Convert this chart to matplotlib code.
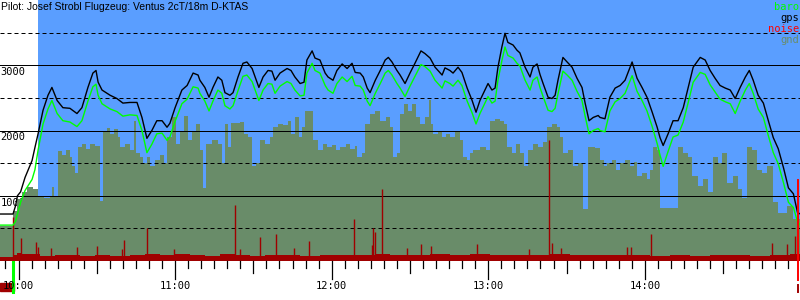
import matplotlib
matplotlib.use("Agg")
import matplotlib.pyplot as plt
import numpy as np

# minutes after 10:00, altitudes in m
flight_t = [-7.1, -2.1, -1.1, -0.4, 0.8, 2.5, 5.2, 6.3, 7.5, 9.4, 11.3, 12.8, 14.8, 17.0, 19.7,
            22.4, 24.3, 26.6, 28.5, 29.7, 30.5, 32.0, 35.1, 37.7, 40.0, 42.7, 45.4, 47.3, 49.2,
            51.1, 53.0, 55.0, 56.9, 58.0, 60.0, 62.6, 64.6, 66.9, 68.8, 69.5, 71.4, 73.0, 74.5,
            76.4, 77.9, 79.1, 81.0, 82.2, 84.1, 86.0, 87.5, 89.5, 91.4, 92.1, 93.7, 95.6, 97.1,
            98.3, 100.2, 102.9, 104.4, 105.9, 107.9, 109.4, 110.5, 112.5, 113.6, 115.5, 117.5,
            118.6, 120.5, 122.0, 124.0, 125.9, 127.8, 129.0, 130.9, 132.1, 133.6, 134.7, 136.7,
            138.6, 140.5, 141.7, 143.1, 145.0, 146.2, 148.1, 150.0, 151.9, 154.2, 155.7, 157.7,
            159.6, 162.3, 163.4, 165.3, 166.5, 168.4, 169.9, 171.9, 173.8, 175.3, 176.8, 178.7,
            179.9, 181.4, 182.6, 183.7, 185.2, 186.4, 187.5, 189.5, 191.0, 192.1, 194.1, 196.0,
            197.1, 198.7, 199.8, 201.0, 202.9, 204.4, 205.6, 206.7, 208.6, 210.2, 212.1, 214.0,
            215.9, 217.1, 218.6, 220.2, 222.1, 222.8, 224.7, 226.6, 228.6, 230.5, 232.4, 234.3,
            235.1, 237.0, 238.9, 240.8, 242.8, 244.7, 245.8, 247.0, 248.9, 250.8, 252.7, 254.7,
            256.6, 258.5, 261.2, 263.1, 265.0, 266.9, 268.8, 270.8, 272.7, 274.6, 276.5, 278.5,
            280.0, 281.5, 283.4, 285.4, 287.3, 289.2, 291.1, 293.1, 295.0, 296.9, 298.5, 299.6]
gps = [720, 720, 850, 1000, 1060, 1280, 1540, 1740, 1950, 2310, 2540, 2660, 2460, 2350, 2340,
       2260, 2350, 2660, 2880, 2920, 2740, 2620, 2540, 2490, 2420, 2430, 2430, 2200, 1880,
       2000, 2150, 2150, 2050, 2110, 2350, 2620, 2690, 2880, 2850, 2770, 2660, 2510, 2660,
       2820, 2770, 2580, 2540, 2580, 2820, 3030, 3050, 2950, 2740, 2660, 2820, 2920, 2910,
       2770, 2880, 2950, 2920, 2820, 2720, 2740, 3080, 3220, 3110, 3080, 2880,
       2820, 2770, 2920, 3020, 2950, 3030, 2890, 2880, 2820, 2650, 2580, 2770,
       2920, 3080, 3120, 3050, 2920, 2850, 2720, 2880, 3030, 3220, 3180, 3110,
       2970, 2850, 2960, 2920, 2880, 2970, 2890, 2650, 2460, 2280, 2460, 2620,
       2720, 2620, 2650, 2970, 3280, 3490, 3350, 3310, 3230, 3190, 2970, 2820,
       2970, 3020, 2860, 2720, 2510, 2490, 2540, 2770, 3120, 3050, 2970, 2800,
       2660, 2420, 2150, 2200, 2230, 2200, 2180, 2510, 2650, 2690, 2770, 2970,
       3050, 2800, 2660, 2510, 2280, 2050, 1890, 1770, 1950, 2150, 2150, 2350,
       2660, 2970, 3120, 3080, 2920, 2800, 2690, 2650, 2620, 2490, 2660, 2820,
       2920, 2770, 2540, 2420, 2150, 1890, 1720, 1430, 1120, 1030, 740, 720]
baro = [550, 550, 610, 720, 900, 1080, 1250, 1400, 1700, 2100, 2330, 2460, 2260, 2150, 2130,
        2060, 2150, 2450, 2670, 2710, 2540, 2410, 2330, 2290, 2220, 2240, 2230, 2000, 1660,
        1790, 1950, 1960, 1850, 1900, 2140, 2410, 2480, 2670, 2650, 2570, 2450, 2300, 2450,
        2620, 2570, 2380, 2330, 2380, 2610, 2830, 2850, 2750, 2540, 2460, 2620, 2720, 2710,
        2570, 2680, 2750, 2720, 2620, 2530, 2540, 2880, 3030, 2920, 2880, 2690,
        2620, 2570, 2720, 2820, 2750, 2830, 2690, 2680, 2620, 2450, 2380, 2570,
        2720, 2880, 2920, 2850, 2720, 2650, 2520, 2680, 2830, 3010, 2980, 2910,
        2770, 2650, 2760, 2720, 2680, 2770, 2690, 2450, 2270, 2100, 2260, 2420,
        2520, 2420, 2450, 2770, 3070, 3280, 3150, 3110, 3030, 2990, 2770, 2620,
        2770, 2820, 2660, 2520, 2310, 2290, 2340, 2560, 2910, 2850, 2770, 2600,
        2460, 2220, 1950, 2000, 2030, 2000, 1980, 2300, 2440, 2490, 2570, 2760,
        2840, 2600, 2460, 2300, 2060, 1800, 1620, 1450, 1680, 1900, 1930, 2130,
        2430, 2740, 2890, 2860, 2700, 2590, 2480, 2440, 2410, 2260, 2450, 2620,
        2720, 2570, 2330, 2200, 1920, 1660, 1490, 1200, 900, 820, 600, 550]

gnd_t = [-7.1, -2.1, -0.6, 1.3, 3.3, 5.6, 7.5, 9.8, 12.1, 12.8, 13.6, 15.1, 16.7, 18.2, 19.7,
         20.5, 21.6, 22.8, 24.3, 25.9, 27.4, 29.3, 31.2, 32.4, 33.9, 35.1, 36.6, 38.1, 38.9,
         40.8, 42.7, 44.3, 45.0, 46.6, 47.7, 49.2, 50.4, 52.3, 54.2, 55.7, 56.9, 58.8, 60.3,
         61.9, 63.4, 64.9, 66.5, 68.0, 69.5, 70.7, 71.8, 74.1, 76.4, 77.9, 79.1, 80.3, 81.4,
         84.9, 86.4, 87.9, 89.5, 91.0, 92.5, 94.4, 96.4, 97.5, 99.4, 101.3, 103.3, 104.4,
         105.9, 107.5, 108.6, 109.8, 112.8, 114.8, 116.7, 118.2, 120.1, 121.6, 123.2, 125.5,
         127.0, 129.0, 129.7, 131.6, 132.8, 134.7, 136.7, 138.6, 140.9, 142.4, 143.5, 145.0,
         146.2, 147.7, 149.2, 150.8, 152.3, 153.8, 155.7, 157.3, 158.0, 158.8, 160.7, 162.3,
         163.8, 165.3, 167.2, 169.2, 170.3, 171.9, 173.0, 174.1, 176.8, 179.1, 180.6, 182.6,
         184.5, 186.0, 187.2, 189.1, 190.6, 192.1, 193.7, 195.2, 197.1, 199.0, 201.0, 202.5,
         204.4, 206.3, 207.5, 208.6, 210.5, 212.5, 214.4, 216.3, 218.2, 220.9, 222.8, 224.4,
         225.5, 227.4, 229.0, 230.5, 232.4, 234.3, 235.9, 237.0, 238.9, 240.8, 242.0, 243.1,
         244.7, 245.8, 252.7, 254.7, 256.6, 258.1, 260.4, 262.3, 264.2, 266.1, 268.0, 269.6,
         271.5, 273.8, 275.7, 277.2, 279.1, 281.1, 283.0, 284.9, 286.8, 289.2, 291.1, 294.5,
         296.9, 299.6]
gnd = [540, 760, 950, 1050, 1130, 1100, 1000, 960, 1000, 1140, 980, 1680, 1620, 1700, 1600,
       1450, 1350, 1750, 1800, 1720, 1800, 1760, 920, 2000, 2040, 1950, 2030, 1900, 1750,
       1800, 1700, 2150, 1650, 1600, 1500, 1600, 1450, 1550, 1620, 1500, 1900, 2200, 1800,
       2000, 2220, 1850, 2000, 2100, 1700, 1120, 1800, 1850, 1800, 1500, 2100, 1750, 2120,
       2130, 1950, 1900, 1450, 1500, 1850, 1800, 1900, 2050, 2100, 2080, 2150, 1950,
       2200, 1900, 2050, 2300, 1850, 1700, 1800, 1750, 1780, 1700, 1750, 1800,
       1720, 1760, 1600, 1650, 2100, 2250, 2300, 2150, 2200, 2050, 1600, 1650,
       2250, 2400, 2300, 2400, 2200, 2100, 2200, 2460, 2100, 1950, 2000, 1900,
       1950, 1900, 2000, 1850, 1600, 1550, 1650, 1700, 1750, 1700, 2150, 2180,
       2150, 2100, 1750, 1650, 1800, 1650, 1450, 1700, 1800, 1750, 1820, 2050,
       2100, 2050, 1900, 1650, 1700, 1450, 1500, 800, 1750, 1730, 1550, 1450,
       1500, 1550, 1400, 1500, 1550, 1450, 1520, 1300, 1350, 1250, 1400, 1750,
       1700, 810, 1750, 1650, 1600, 1300, 1150, 1250, 1050, 1600, 1500, 1650,
       1200, 1300, 1100, 960, 1750, 1700, 1400, 1350, 1450, 900, 740, 850,
       650, 600]

noise_t = [-7.1, -2.1, -0.6, 1.3, 4.4, 8.2, 14.0, 19.7, 23.6, 29.3, 35.1, 42.7, 48.5, 54.2,
           60.0, 65.7, 71.5, 77.2, 83.0, 88.7, 94.4, 100.2, 107.9, 115.5, 123.2, 130.9, 136.7,
           142.4, 150.0, 157.7, 165.3, 173.0, 180.6, 188.3, 196.0, 203.6, 211.3, 219.0, 226.6,
           234.3, 242.0, 249.6, 257.3, 265.0, 272.7, 280.4, 288.0, 295.7, 299.6]
noise = [60, 90, 130, 110, 100, 80, 90, 95, 80, 95, 80, 90, 100, 85,
         100, 90, 80, 100, 90, 80, 85, 90, 80, 90, 85, 95, 100,
         90, 95, 110, 90, 100, 85, 95, 85, 100, 90, 85, 90,
         85, 80, 85, 80, 90, 85, 80, 90, 100, 100]
spike_t = [-2.1, 1.0, 6.7, 7.5, 12.5, 22.4, 30.1, 39.7, 40.4, 49.2, 59.6, 83.0, 84.9, 92.5,
           98.7, 105.6, 111.3, 128.6, 135.5, 135.9, 136.7, 139.3, 148.9, 154.2, 158.0, 175.7,
           195.6, 203.3, 204.4, 207.9, 233.2, 234.7, 242.4, 288.7, 294.5, 297.6]
spike = [680, 350, 290, 220, 200, 210, 230, 180, 320, 510, 190, 860, 190, 370,
         410, 200, 300, 640, 250, 510, 450, 1110, 200, 260, 230, 260,
         180, 1850, 270, 200, 220, 220, 410, 280, 260, 390]

hours = [0, 60, 120, 180, 240]
hour_labels = ["10:00", "11:00", "12:00", "13:00", "14:00"]
alt_labels = [1000, 2000, 3000]
release_t = 7.5
takeoff_t = -2.0
landing_t = 298.8

BLUE = "#5a9eff"
GND = "#698c69"
NOISE = "#a00000"
mono = "DejaVu Sans Mono"

fig = plt.figure(figsize=(8, 3), dpi=100)
ax = fig.add_axes([0, 39 / 300, 1, 261 / 300])
ax.set_xlim(-7.09, 299.43)
ax.set_ylim(0, 4000)
ax.axis("off")

ax.axvspan(release_t, 299.43, color=BLUE, lw=0, zorder=0)

for a in alt_labels:
    ax.text(-6.9, a - 30, str(a), ha="left", va="top", fontsize=7.5, family=mono, zorder=1)

ax.fill_between(gnd_t, 0, gnd, step="post", color=GND, lw=0, zorder=2)

for a in range(500, 4000, 500):
    if a % 1000 == 0:
        ax.axhline(a, color="black", lw=0.72, zorder=3)
    else:
        ax.axhline(a, color="black", lw=0.72, ls=(0, (4, 3)), zorder=3)

ax.fill_between(noise_t, 0, noise, step="post", color=NOISE, lw=0, zorder=4)
ax.vlines(spike_t, 0, spike, color=NOISE, lw=1.0, zorder=4)

ax.plot(flight_t, baro, color="#00ff00", lw=1.0, zorder=5)
ax.plot(flight_t, gps, color="black", lw=1.0, zorder=6)

# time axis ticks below the plot
for m in range(-5, 300, 5):
    if m % 60 == 0:
        ln = 280
    elif m % 30 == 0:
        ln = 180
    else:
        ln = 100
    ax.plot([m, m], [0, -ln], color="black", lw=0.9, clip_on=False, zorder=7)
for h, lab in zip(hours, hour_labels):
    ax.text(h, -385, lab, ha="center", va="center", fontsize=7.5, family=mono, zorder=8)

ax.add_patch(plt.Rectangle((-7.09, -340), 5.4, -120, color=NOISE, clip_on=False, zorder=7))
ax.plot([takeoff_t, takeoff_t], [-10, -470], color="#00ff00", lw=2.2, clip_on=False, zorder=7)
ax.plot([landing_t, landing_t], [1240, -290], color="#ff0000", lw=1.4, clip_on=False, zorder=7)
ax.plot([landing_t, landing_t], [-370, -470], color=NOISE, lw=1.4, clip_on=False, zorder=7)

fig.text(0.001, 0.995, "Pilot: Josef Strobl Flugzeug: Ventus 2cT/18m D-KTAS", ha="left", va="top",
         fontsize=7.5, family="Liberation Sans")
legend = [("baro", "#00ff00"), ("gps", "black"), ("noise", "#ff0000"), ("gnd", GND)]
for i, (name, col) in enumerate(legend):
    fig.text(0.999, 1 - (7 + 11 * i) / 300, name, ha="right", va="center", color=col,
             fontsize=7.5, family=mono)

fig.savefig("out.png", dpi=100)
